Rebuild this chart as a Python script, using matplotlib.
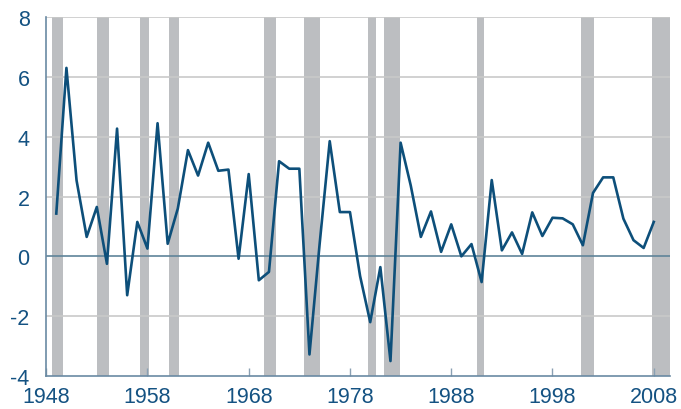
import numpy as np
import matplotlib
matplotlib.use('Agg')
import matplotlib.pyplot as plt

# annual values, 1949-2008
years = list(range(1949, 2009))
values = [1.43, 6.3, 2.54, 0.65, 1.65, -0.25, 4.27, -1.3, 1.15, 0.26,
          4.45, 0.42, 1.6, 3.55, 2.7, 3.8, 2.86, 2.9, -0.08, 2.75,
          -0.8, -0.52, 3.18, 2.93, 2.93, -3.28, 0.4, 3.85, 1.48, 1.48,
          -0.66, -2.2, -0.36, -3.5, 3.8, 2.37, 0.65, 1.5, 0.15, 1.07,
          0.0, 0.41, -0.86, 2.55, 0.2, 0.8, 0.08, 1.47, 0.68, 1.29,
          1.27, 1.07, 0.37, 2.12, 2.64, 2.64, 1.26, 0.54, 0.28, 1.15]

# shaded periods (start, end) in fractional years
rec_start = [1948.6, 1953.0, 1957.25, 1960.1, 1969.5, 1973.5, 1979.8, 1981.4, 1990.55, 2000.8, 2007.8]
rec_end = [1949.7, 1954.25, 1958.2, 1961.1, 1970.7, 1975.05, 1980.6, 1982.9, 1991.2, 2002.1, 2009.8]

xticks = [1948, 1958, 1968, 1978, 1988, 1998, 2008]
yticks = [-4, -2, 0, 2, 4, 6, 8]

txt_color = '#145282'
line_color = '#0d4f7a'

fig = plt.figure(figsize=(6.81, 4.10), dpi=100)
ax = fig.add_axes([0.0678, 0.0805, 0.916, 0.8755])

for s, e in zip(rec_start, rec_end):
    ax.axvspan(s, e, color='#bcbec1', lw=0, zorder=1)

for y in yticks:
    if y == 0:
        ax.axhline(y, color='#5f8499', lw=1.2, zorder=2)
    elif y != -4:
        ax.axhline(y, color='#c9c9c9', lw=1.2, zorder=2)

ax.plot(years, values, color=line_color, lw=1.9, zorder=3)

ax.set_xlim(1948, 2009.6)
ax.set_ylim(-4, 8)
ax.set_xticks(xticks)
ax.set_yticks(yticks)
ax.set_xticklabels([str(t) for t in xticks])
ax.set_yticklabels([str(t) for t in yticks])

for side in ['top', 'right']:
    ax.spines[side].set_visible(False)
for side in ['left', 'bottom']:
    ax.spines[side].set_color('#6a8aa3')
    ax.spines[side].set_linewidth(1.2)

ax.tick_params(axis='x', direction='in', length=6, width=1, color='#8aa0b3',
               labelsize=15.5, labelcolor=txt_color, pad=7)
ax.tick_params(axis='y', length=0, labelsize=15.5, labelcolor=txt_color, pad=12)
for lab in ax.get_xticklabels() + ax.get_yticklabels():
    lab.set_family('Liberation Sans')

fig.savefig('out.png', dpi=100)
